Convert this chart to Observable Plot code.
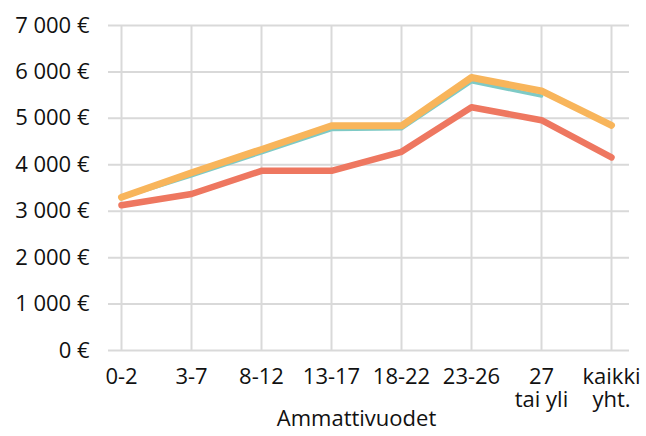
<!DOCTYPE html>
<html><head><meta charset="utf-8">
<script src="https://cdn.jsdelivr.net/npm/d3@7"></script>
<script src="https://cdn.jsdelivr.net/npm/@observablehq/plot@0.6"></script>
<style>body{margin:0;background:#fff;font-family:"Open Sans",sans-serif}</style>
</head><body><div id="chart"></div>
<script>
const categories = ["0-2","3-7","8-12","13-17","18-22","23-26","27\ntai yli","kaikki\nyht."];
const seriesTeal = [3290, 3760, 4260, 4760, 4775, 5790, 5480, null];
const seriesOrange = [3300, 3830, 4330, 4840, 4840, 5880, 5590, 4850];
const seriesRed = [3130, 3370, 3870, 3870, 4280, 5240, 4960, 4160];
const yTicks = [0,1000,2000,3000,4000,5000,6000,7000];
const yTickLabels = ["0 €","1 000 €","2 000 €","3 000 €","4 000 €","5 000 €","6 000 €","7 000 €"];
const xTitle = "Ammattivuodet";

const mk = (vals, s) => categories.map((c,i)=>({cat:c, v:vals[i], s})).filter(d=>d.v!=null);
const teal = mk(seriesTeal,"teal"), orange = mk(seriesOrange,"orange"), red = mk(seriesRed,"red");

const chart = Plot.plot({
  width: 646, height: 436,
  marginLeft: 119, marginRight: 33, marginTop: 25, marginBottom: 86,
  style: {fontFamily: '"Open Sans", sans-serif', fontSize: "22px", color: "#111", background: "#fff"},
  x: {type: "point", domain: categories, padding: 0},
  y: {domain: [0, 7000]},
  marks: [
    Plot.ruleY(yTicks, {stroke: "#d9d9d9", strokeWidth: 2, strokeOpacity: 1, insetLeft: -11, insetRight: -16}),
    Plot.ruleX(categories, {x: d=>d, stroke: "#d9d9d9", strokeWidth: 2, strokeOpacity: 1}),
    Plot.axisY({ticks: yTicks, tickFormat: (d)=>yTickLabels[yTicks.indexOf(d)], tickSize: 0, tickPadding: 30, label: null, fontSize: 22, fill: "#111"}),
    Plot.axisX({tickSize: 0, tickPadding: 17, label: null, fontSize: 22, lineHeight: 1.06, fill: "#111"}),
    Plot.line(teal, {x: "cat", y: "v", stroke: "#7ecac6", strokeWidth: 3.5, strokeLinecap: "round", strokeLinejoin: "round"}),
    Plot.line(red, {x: "cat", y: "v", stroke: "#ee7760", strokeWidth: 6.5, strokeLinecap: "round", strokeLinejoin: "round"}),
    Plot.line(orange, {x: "cat", y: "v", stroke: "#f8b55b", strokeWidth: 7, strokeLinecap: "round", strokeLinejoin: "round"}),
    Plot.text([xTitle], {frameAnchor: "bottom", text: d=>d, dy: 75, dx: -10, fontSize: 22, fill: "#111"})
  ]
});
document.getElementById("chart").appendChild(chart);
</script></body></html>
